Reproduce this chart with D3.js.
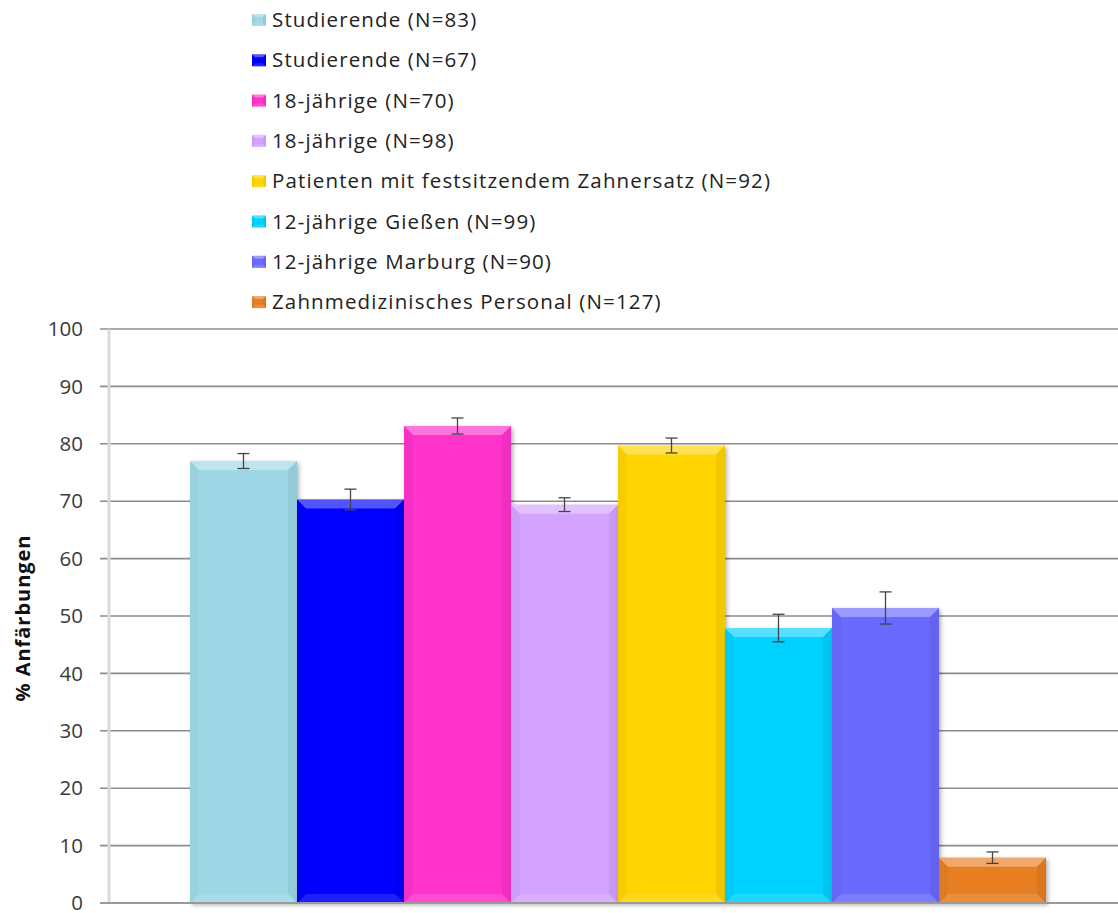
<!DOCTYPE html>
<html>
<head>
<meta charset="utf-8">
<script src="https://cdn.jsdelivr.net/npm/d3@7"></script>
<style>
  html, body { margin: 0; padding: 0; background: #fff; }
  svg { display: block; }
</style>
</head>
<body>
<svg id="chart" width="1118" height="913"></svg>
<script>
// Anteil der Anfärbungen je Untersuchungsgruppe (Mittelwert ± Fehler)
const groups = [
  "Studierende (N=83)",
  "Studierende (N=67)",
  "18-jährige (N=70)",
  "18-jährige (N=98)",
  "Patienten mit festsitzendem Zahnersatz (N=92)",
  "12-jährige Gießen (N=99)",
  "12-jährige Marburg (N=90)",
  "Zahnmedizinisches Personal (N=127)"
];
const values = [77.0, 70.3, 83.1, 69.4, 79.7, 47.9, 51.4, 7.9];
const errors = [1.3, 1.8, 1.4, 1.2, 1.3, 2.4, 2.8, 1.0];
const colors = ["#9ed8e6", "#0000ff", "#ff33cc", "#d4a3ff", "#ffd400", "#00d2ff", "#6b6bff", "#e87e22"];
const yTicks = [0, 10, 20, 30, 40, 50, 60, 70, 80, 90, 100];
const yTitle = "% Anfärbungen";

const svg = d3.select("#chart");
const font = "'Open Sans', sans-serif";

const plot = { left: 109, right: 1118, top: 329, bottom: 903 };
const y = d3.scaleLinear().domain([0, 100]).range([plot.bottom, plot.top]);
const x = d3.scaleBand().domain(d3.range(groups.length)).range([190, 1046]).paddingInner(0).paddingOuter(0);

const defs = svg.append("defs");
const shadow = defs.append("filter").attr("id", "shadow")
  .attr("x", "-10%").attr("y", "-10%").attr("width", "125%").attr("height", "125%");
shadow.append("feDropShadow").attr("dx", 2).attr("dy", 2).attr("stdDeviation", 2)
  .attr("flood-color", "#000").attr("flood-opacity", 0.3);

// spread a set of texts so the widest one spans the given width
function fitSpacing(sel, width) {
  let maxW = 0, maxN = 1;
  sel.each(function () {
    const w = this.getComputedTextLength();
    if (w > maxW) { maxW = w; maxN = this.textContent.length; }
  });
  const ls = (width - maxW) / Math.max(1, maxN - 1);
  sel.attr("letter-spacing", ls.toFixed(3));
}

// horizontal gridlines (extending left as tick marks)
svg.append("g").selectAll("line").data(yTicks.filter(t => t > 0)).join("line")
  .attr("x1", 100).attr("x2", plot.right)
  .attr("y1", d => y(d)).attr("y2", d => y(d))
  .attr("stroke", "#8c8c8c").attr("stroke-width", 1.6);

// vertical axis line
svg.append("line")
  .attr("x1", plot.left).attr("x2", plot.left)
  .attr("y1", plot.top).attr("y2", plot.bottom)
  .attr("stroke", "#d9d9d9").attr("stroke-width", 3);

// y axis tick labels
const yAxis = d3.axisLeft(y).tickValues(yTicks).tickSize(0).tickPadding(0);
const gY = svg.append("g").attr("transform", `translate(83,0)`).call(yAxis);
gY.select(".domain").remove();
gY.selectAll("text")
  .attr("font-family", font).attr("font-size", 20.5).attr("fill", "#3a3a3a")
  .attr("dy", "0.33em");

// y axis title
const title = svg.append("text")
  .attr("transform", `translate(25,${(plot.top + plot.bottom) / 2 + 2}) rotate(-90)`)
  .attr("text-anchor", "middle").attr("dominant-baseline", "middle")
  .attr("font-family", font).attr("font-size", 20).attr("font-weight", "bold")
  .attr("fill", "#111").text(yTitle);
fitSpacing(title, 166);

// bars with bevel
function bevel(g, x0, x1, y0, y1, d) {
  const pts = {
    top: [[x0, y0], [x1, y0], [x1 - d, y0 + d], [x0 + d, y0 + d]],
    left: [[x0, y0], [x0 + d, y0 + d], [x0 + d, y1 - d], [x0, y1]],
    right: [[x1, y0], [x1 - d, y0 + d], [x1 - d, y1 - d], [x1, y1]],
    bottom: [[x0, y1], [x0 + d, y1 - d], [x1 - d, y1 - d], [x1, y1]]
  };
  const style = {
    top: ["#fff", 0.33], left: ["#000", 0.03], right: ["#000", 0.06], bottom: ["#fff", 0.12]
  };
  Object.keys(pts).forEach(k => {
    g.append("polygon").attr("points", pts[k].map(p => p.join(",")).join(" "))
      .attr("fill", style[k][0]).attr("fill-opacity", style[k][1]);
  });
}

const bars = svg.append("g");
values.forEach((v, i) => {
  const g = bars.append("g");
  const x0 = x(i), x1 = x(i) + x.bandwidth(), y0 = y(v), y1 = y(0);
  g.append("rect").attr("x", x0).attr("y", y0).attr("width", x1 - x0).attr("height", y1 - y0)
    .attr("fill", colors[i]).attr("filter", "url(#shadow)");
  bevel(g, x0, x1, y0, y1, Math.min(9, (y1 - y0) / 2));
});

// baseline
svg.append("line").attr("x1", 100).attr("x2", plot.right)
  .attr("y1", y(0)).attr("y2", y(0)).attr("stroke", "#9a9a9a").attr("stroke-width", 2);

// error bars
const eb = svg.append("g").attr("stroke", "#444").attr("stroke-width", 1.3);
values.forEach((v, i) => {
  const cx = x(i) + x.bandwidth() / 2;
  const hi = y(v + errors[i]), lo = y(v - errors[i]);
  eb.append("line").attr("x1", cx).attr("x2", cx).attr("y1", hi).attr("y2", lo);
  eb.append("line").attr("x1", cx - 6).attr("x2", cx + 6).attr("y1", hi).attr("y2", hi);
  eb.append("line").attr("x1", cx - 6).attr("x2", cx + 6).attr("y1", lo).attr("y2", lo);
});

// legend
const legend = svg.append("g");
groups.forEach((name, i) => {
  const cy = 20 + i * 40.3;
  const g = legend.append("g");
  g.append("rect").attr("x", 252).attr("y", cy - 6).attr("width", 14).attr("height", 12)
    .attr("fill", colors[i]);
  bevel(g, 252, 266, cy - 6, cy + 6, 3);
  g.append("text").attr("class", "legend-label").attr("x", 272).attr("y", cy).attr("dy", "0.35em")
    .attr("font-family", font).attr("font-size", 20.5).attr("fill", "#222").text(name);
});
fitSpacing(legend.selectAll("text.legend-label"), 498);
</script>
</body>
</html>
